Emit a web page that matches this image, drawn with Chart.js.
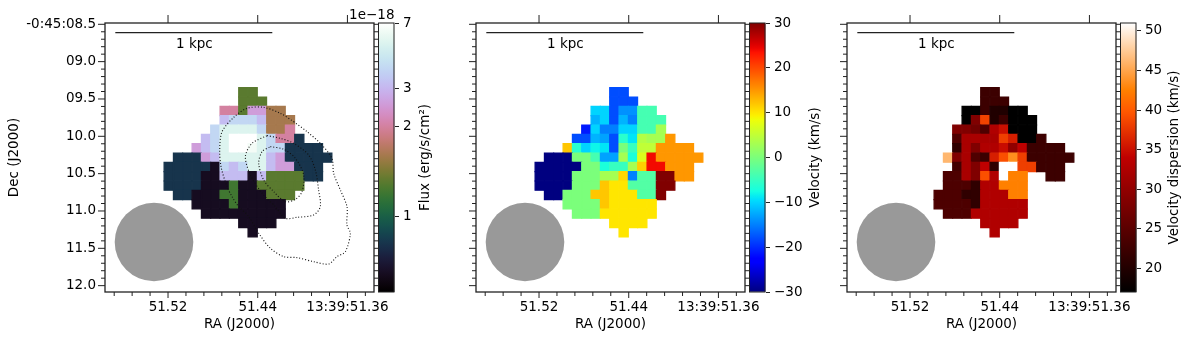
<!DOCTYPE html>
<html>
<head>
<meta charset="utf-8">
<title>Flux, velocity and dispersion maps</title>
<script src="https://cdn.jsdelivr.net/npm/chart.js@4/dist/chart.umd.min.js"></script>
<style>
    html, body { margin: 0; padding: 0; background: #fff; }
    #wrap { position: relative; width: 1200px; height: 339px; overflow: hidden; }
    #wrap div { position: absolute; top: 0; height: 339px; }
    #wrap div.map { top: -20px; height: 359px; width: 420px; }
    canvas { display: block; }
</style>
</head>
<body>
<div id="wrap">
    <div class="map" style="left:0"><canvas id="fluxMap"></canvas></div>
    <div class="map" style="left:371px"><canvas id="velMap"></canvas></div>
    <div class="map" style="left:742px"><canvas id="dispMap"></canvas></div>
    <div style="left:378px;width:70px"><canvas id="fluxBar"></canvas></div>
    <div style="left:749px;width:90px"><canvas id="velBar"></canvas></div>
    <div style="left:1120px;width:80px"><canvas id="dispBar"></canvas></div>
</div>
<script>
// ─── DATA ─────────────────────────────────────────────────────────────────────
const _ = null;

// RA seconds / Dec arcsec of the first spaxel, and the spaxel step
const firstRa = 51.5194, stepRa = 0.00832;
const firstDec = 9.4107, stepDec = 0.125;

// flux levels (1e-18 erg/s/cm2)
const K = 0.47, N = 0.75, D = 1.27, O = 1.38, B = 1.68, R = 2.0, P = 2.6, L = 3.2, S = 4.2, A = 5.8, W = 7;

const fluxRows = [
    [_, _, _, _, _, _, _, _, O, O],
    [_, _, _, _, _, _, _, _, O, O, O],
    [_, _, _, _, _, _, R, R, O, P, P, B, B],
    [_, _, _, _, _, _, L, S, S, S, L, B, B, B],
    [_, _, _, _, _, S, A, A, A, A, S, B, B, R],
    [_, _, _, _, L, S, A, W, W, W, A, S, R, R, N],
    [_, _, _, P, L, S, A, W, W, 6.6, A, S, S, N, N, N, N],
    [_, N, N, N, P, L, A, A, A, A, A, L, P, N, N, N, N, N],
    [N, N, N, N, N, K, S, L, S, A, A, L, P, P, N, N, N],
    [N, N, N, N, K, K, L, L, L, K, L, O, O, O, O, N, N],
    [N, N, N, N, K, K, K, D, K, K, O, O, O, O, O],
    [_, N, N, K, K, K, D, D, K, K, K, O, O, O],
    [_, _, _, K, K, K, K, D, K, K, K, K, K],
    [_, _, _, _, K, K, K, K, K, K, K, K, K],
    [_, _, _, _, _, _, _, _, K, K, K, K],
    [_, _, _, _, _, _, _, _, _, K]
];

const velRows = [
    [_, _, _, _, _, _, _, _, -18, -18],
    [_, _, _, _, _, _, _, _, -18, -18, -18],
    [_, _, _, _, _, _, -10, -10, -18, -14, -14, -4, -4],
    [_, _, _, _, _, _, -12, -10, -18, -12, -15, -4, -4, -4],
    [_, _, _, _, _, -21, -10, -15, -15, -10, -10, -4, -4, 3],
    [_, _, _, _, -18, -18, -12, -13, -18, -6, -9, 4, 3, 3, 15],
    [_, _, _, 12, -6, -10, -8, -9, -18, 0, -5, 5, 5, 15, 15, 15, 15],
    [_, -30, -30, -30, 0, 0, -4, -13, -13, 3, -7, 7, 24, 15, 15, 15, 15, 15],
    [-30, -30, -30, -30, -30, 0, 0, -7, -5, -5, 3, 11.5, 24, 24, 15, 15, 15],
    [-30, -30, -30, -30, 0, 0, 0, 3, 3, 11, -15, -3, -3, 30, 30, 15, 15],
    [-30, -30, -30, -30, 0, 0, 0, 12, 10, 10, -3, -3, -3, 30, 30],
    [_, -30, -30, 0, 0, 0, 12, 12, 10, 10, 10, -3, -3, 30],
    [_, _, _, 0, 0, 0, 0, 12, 10, 10, 10, 10, 10],
    [_, _, _, _, 0, 0, 0, 10, 10, 10, 10, 10, 10],
    [_, _, _, _, _, _, _, _, 10, 10, 10, 10],
    [_, _, _, _, _, _, _, _, _, 10]
];

const dispRows = [
    [_, _, _, _, _, _, _, _, 22.3, 22.3],
    [_, _, _, _, _, _, _, _, 22.3, 22.3, 22.3],
    [_, _, _, _, _, _, 17, 17, 22.3, 19.8, 19.8, 17, 17],
    [_, _, _, _, _, _, 17, 28.4, 38.5, 19.8, 22.3, 17, 17, 17],
    [_, _, _, _, _, 28.4, 28.4, 27, 24, 32.6, 35, 17, 17, 17],
    [_, _, _, _, _, 24, 32, 32, 32, 32, 38.2, 36, 17, 17, 22.3],
    [_, _, _, _, _, 21.3, 32, 28.4, 32.6, 32.6, 34.8, 29.8, 34, 22.3, 22.3, 22.3, 22.3],
    [_, _, _, _, 46.2, 28.4, 32, 24, 22.3, 36, 39.3, 43.5, 38.2, 22.3, 22.3, 22.3, 22.3, 22.3],
    [_, _, _, _, _, 23, 32, 28.4, 34, 21.3, 51, 51, 38.2, 38.2, 22.3, 22.3, 22.3],
    [_, _, _, _, 23.8, 23.8, 32, 28.4, 39.3, 32.6, 51, 42.5, 42.5, _, _, 22.3, 22.3],
    [_, _, _, _, 23.8, 23.8, 23.8, 21.3, 32.6, 32.6, 42.5, 42.5, 42.5],
    [_, _, _, 23.8, 23.8, 23.8, 21.3, 21.3, 32.6, 32.6, 32.6, 42.5, 42.5],
    [_, _, _, 23.8, 23.8, 23.8, 23.8, 21.3, 32.6, 32.6, 32.6, 32.6, 32.6],
    [_, _, _, _, 23.8, 23.8, 23.8, 32.6, 32.6, 32.6, 32.6, 32.6, 32.6],
    [_, _, _, _, _, _, _, _, 32.6, 32.6, 32.6, 32.6],
    [_, _, _, _, _, _, _, _, _, 32.6]
];

// dotted contours in panel one, [RA seconds, Dec arcsec]
const contourOuter = [
    [51.4079, 9.804], [51.3960, 9.938], [51.3842, 10.094], [51.3738, 10.295], [51.3723, 10.496],
    [51.3663, 10.719], [51.3604, 10.942], [51.3604, 11.188], [51.3574, 11.299], [51.3619, 11.545],
    [51.3693, 11.612], [51.3767, 11.710], [51.3901, 11.679], [51.4050, 11.625], [51.4168, 11.612],
    [51.4287, 11.500], [51.4391, 11.299], [51.4480, 11.076], [51.4569, 10.942], [51.4629, 10.808],
    [51.4679, 10.652], [51.4727, 10.406], [51.4739, 10.183], [51.4718, 9.938], [51.4614, 9.746],
    [51.4495, 9.625], [51.4347, 9.612], [51.4198, 9.692], [51.4079, 9.804]
];
const contourMiddle = [
    [51.4317, 9.991], [51.4198, 10.027], [51.4079, 10.094], [51.3946, 10.250], [51.3886, 10.451],
    [51.3857, 10.719], [51.3842, 10.942], [51.3901, 11.054], [51.4050, 11.085], [51.4154, 11.098],
    [51.4243, 10.942], [51.4361, 10.763], [51.4465, 10.518], [51.4510, 10.272], [51.4451, 10.094],
    [51.4317, 9.991]
];
const contourInner = [
    [51.4287, 10.138], [51.4168, 10.174], [51.4064, 10.295], [51.3990, 10.518], [51.4005, 10.741],
    [51.4064, 10.844], [51.4154, 10.875], [51.4257, 10.741], [51.4347, 10.585], [51.4391, 10.362],
    [51.4361, 10.205], [51.4287, 10.138]
];

// scale bar and beam
const barRa = [51.5670, 51.4270], barDec = 8.6125;
const kpcRa = 51.4965, kpcDec = 8.764;
const beamRa = 51.5325, beamDec = 11.415;

// axes
const raRange = [51.3363, 51.5762];
const decRange = [8.4826, 12.085];
const raMajor = [51.36, 51.44, 51.52];
const raMinor = [51.344, 51.376, 51.392, 51.408, 51.424, 51.456, 51.472, 51.488, 51.504, 51.536, 51.552, 51.568];
const decMajor = [8.5, 9, 9.5, 10, 10.5, 11, 11.5, 12];
const decMinor = [8.6, 8.7, 8.8, 8.9, 9.1, 9.2, 9.3, 9.4, 9.6, 9.7, 9.8, 9.9, 10.1, 10.2, 10.3, 10.4, 10.6, 10.7, 10.8, 10.9, 11.1, 11.2, 11.3, 11.4, 11.6, 11.7, 11.8, 11.9];

// colourbars
const fluxTicks = [1, 2, 3, 7];
const fluxNormV = [0.3, 1, 2, 3, 7];
const fluxNormT = [0, 0.281, 0.616, 0.757, 1];
const velTicks = [-30, -20, -10, 0, 10, 20, 30];
const dispTicks = [20, 25, 30, 35, 40, 45, 50];

// ─── COLOUR MAPS ──────────────────────────────────────────────────────────────
const rgb = (r, g, b) => {
    const c = v => Math.round(Math.min(1, Math.max(0, v)) * 255);
    return `rgb(${c(r)},${c(g)},${c(b)})`;
};

function lerp(xs, ys, x) {
    if (x <= xs[0]) return ys[0];
    for (let i = 1; i < xs.length; i++) {
        if (x <= xs[i]) return ys[i - 1] + (ys[i] - ys[i - 1]) * (x - xs[i - 1]) / (xs[i] - xs[i - 1]);
    }
    return ys[ys.length - 1];
}

function cubehelix(t) {
    const a = t * (1 - t) / 2;
    const phi = 2 * Math.PI * (0.5 / 3 - 1.5 * t);
    const c = Math.cos(phi), s = Math.sin(phi);
    return rgb(t + a * (-0.14861 * c + 1.78277 * s), t + a * (-0.29227 * c - 0.90649 * s), t + a * 1.97294 * c);
}

function jet(t) {
    return rgb(
        lerp([0, 0.35, 0.66, 0.89, 1], [0, 0, 1, 1, 0.5], t),
        lerp([0, 0.125, 0.375, 0.64, 0.91, 1], [0, 0, 1, 1, 0, 0], t),
        lerp([0, 0.11, 0.34, 0.65, 1], [0.5, 1, 1, 0, 0], t)
    );
}

const gistHeat = t => rgb(1.5 * t, 2 * t - 1, 4 * t - 3);

const fluxPos = v => lerp(fluxNormV, fluxNormT, v);
const velPos = v => (v + 30) / 60;
const dispPos = v => (v - 17) / 34;

// ─── PLUGINS ──────────────────────────────────────────────────────────────────
const frameColor = '#222';

const framePlugin = {
    id: 'frame',
    afterDraw(chart) {
        const { ctx, chartArea: a, scales: { x, y } } = chart;
        ctx.save();
        ctx.strokeStyle = frameColor;
        ctx.lineWidth = 1;
        const tick = (x1, y1, x2, y2) => {
            ctx.beginPath();
            ctx.moveTo(x1, y1);
            ctx.lineTo(x2, y2);
            ctx.stroke();
        };
        raMajor.forEach(v => {
            const p = x.getPixelForValue(v);
            tick(p, a.bottom, p, a.bottom + 6);
            tick(p, a.top, p, a.top - 8);
        });
        raMinor.forEach(v => {
            const p = x.getPixelForValue(v);
            tick(p, a.bottom, p, a.bottom + 4);
        });
        decMajor.forEach(v => {
            const p = y.getPixelForValue(v);
            tick(a.left, p, a.left - 7, p);
            tick(a.right, p, a.right + 7, p);
        });
        decMinor.forEach(v => {
            const p = y.getPixelForValue(v);
            tick(a.left, p, a.left - 4, p);
            tick(a.right, p, a.right + 4, p);
        });
        ctx.lineWidth = 1.3;
        ctx.strokeRect(a.left, a.top, a.right - a.left, a.bottom - a.top);

        ctx.fillStyle = '#000';
        ctx.font = "13.5px 'DejaVu Sans'";
        ctx.textAlign = 'center';
        ctx.textBaseline = 'middle';
        ctx.fillText('1 kpc', x.getPixelForValue(kpcRa), y.getPixelForValue(kpcDec));
        if (chart.canvas.id === 'fluxMap') {
            ctx.textAlign = 'right';
            ctx.fillText('1e\u221218', 394.5, a.top - 8);
        }
        ctx.restore();
    }
};

const barLabelPlugin = {
    id: 'barLabel',
    afterDraw(chart, args, opts) {
        const { ctx, chartArea: a } = chart;
        ctx.save();
        ctx.strokeStyle = frameColor;
        ctx.lineWidth = 1;
        ctx.strokeRect(a.left + 0.5, a.top, a.right - a.left - 1, a.bottom - a.top);
        ctx.translate(opts.x, (a.top + a.bottom) / 2);
        ctx.rotate(-Math.PI / 2);
        ctx.fillStyle = '#000';
        ctx.font = "13.5px 'DejaVu Sans'";
        ctx.textAlign = 'center';
        ctx.textBaseline = 'middle';
        ctx.fillText(opts.text, 0, 0);
        ctx.restore();
    }
};

// ─── CHART BUILDERS ───────────────────────────────────────────────────────────
Chart.defaults.font.family = "'DejaVu Sans', sans-serif";
Chart.defaults.font.size = 13.5;
Chart.defaults.color = '#000';
Chart.defaults.animation = false;
Chart.defaults.responsive = false;

const cellPoints = rows => rows.flatMap((row, r) => row.map((v, c) => (
    v === null ? null : { x: firstRa - c * stepRa, y: firstDec + r * stepDec, v }
)).filter(Boolean));

const asPoints = list => list.map(([x, y]) => ({ x, y }));

// the beam's big point reserves its radius round the plot, so the map canvases overhang the page
function makeMap(id, rows, cmap, pos, showDec, contours) {
    const cv = document.getElementById(id);
    cv.width = 420;
    cv.height = 359;
    const cells = cellPoints(rows);
    const cellColors = cells.map(p => cmap(pos(p.v)));
    const lines = contours.map(list => ({
        data: asPoints(list),
        showLine: true,
        pointRadius: 0,
        borderColor: '#111',
        borderWidth: 1.1,
        borderDash: [1, 2],
        tension: 0.3,
        order: 0
    }));
    new Chart(cv, {
        type: 'scatter',
        data: {
            datasets: [
                ...lines,
                {
                    data: [{ x: barRa[0], y: barDec }, { x: barRa[1], y: barDec }],
                    showLine: true,
                    pointRadius: 0,
                    borderColor: '#222',
                    borderWidth: 1.3,
                    order: 1
                },
                {
                    data: [{ x: beamRa, y: beamDec }],
                    pointRadius: 39.3,
                    pointHoverRadius: 39.3,
                    pointBackgroundColor: '#999',
                    pointBorderWidth: 0,
                    order: 2
                },
                {
                    data: cells,
                    pointStyle: 'rect',
                    pointRadius: 6.5,
                    pointBackgroundColor: cellColors,
                    pointBorderColor: cellColors,
                    pointBorderWidth: 1.2,
                    order: 3
                }
            ]
        },
        options: {
            layout: { padding: { top: 43, right: 46, bottom: 0, left: 0 } },
            plugins: { legend: { display: false }, tooltip: { enabled: false } },
            scales: {
                x: {
                    type: 'linear',
                    reverse: true,
                    min: raRange[0],
                    max: raRange[1],
                    grid: { display: false, drawTicks: false },
                    border: { display: false },
                    afterBuildTicks: s => { s.ticks = raMajor.map(value => ({ value })); },
                    afterFit: s => { s.height = 47; },
                    ticks: {
                        autoSkip: false,
                        maxRotation: 0,
                        padding: 7,
                        callback: v => (Math.abs(v - 51.36) < 1e-6 ? '13:39:51.36' : v.toFixed(2))
                    },
                    title: { display: true, text: 'RA (J2000)', padding: { top: 0, bottom: 6 } }
                },
                y: {
                    type: 'linear',
                    reverse: true,
                    min: decRange[0],
                    max: decRange[1],
                    grid: { display: false, drawTicks: false },
                    border: { display: false },
                    afterBuildTicks: s => { s.ticks = decMajor.map(value => ({ value })); },
                    afterFit: s => { s.width = 105; },
                    ticks: {
                        display: showDec,
                        autoSkip: false,
                        padding: 9,
                        callback: v => (v === 8.5 ? '-0:45:08.5' : String(v.toFixed(1)).padStart(4, '0'))
                    },
                    title: { display: showDec, text: 'Dec (J2000)', padding: { top: 6, bottom: 0 } }
                }
            }
        },
        plugins: [framePlugin]
    });
}

function makeBar(id, width, cmap, range, tickVals, tickPos, text, labelX) {
    const cv = document.getElementById(id);
    cv.width = width;
    cv.height = 339;
    new Chart(cv, {
        type: 'bar',
        data: {
            labels: [''],
            datasets: [{
                data: [range],
                barPercentage: 1,
                categoryPercentage: 1,
                borderWidth: 0,
                backgroundColor: ctx => {
                    const a = ctx.chart.chartArea;
                    if (!a) return '#000';
                    const g = ctx.chart.ctx.createLinearGradient(0, a.bottom, 0, a.top);
                    for (let i = 0; i <= 64; i++) g.addColorStop(i / 64, cmap(i / 64));
                    return g;
                }
            }]
        },
        options: {
            layout: { padding: { top: 23, bottom: 47, left: 0, right: 0 } },
            plugins: {
                legend: { display: false },
                tooltip: { enabled: false },
                barLabel: { text, x: labelX }
            },
            scales: {
                x: { display: false },
                y: {
                    position: 'right',
                    min: range[0],
                    max: range[1],
                    grid: { drawOnChartArea: false, tickLength: 4.5, tickColor: frameColor },
                    border: { display: false },
                    afterBuildTicks: s => { s.ticks = tickVals.map(v => ({ value: tickPos(v) })); },
                    afterFit: s => { s.width = width - 16.5; },
                    ticks: {
                        autoSkip: false,
                        padding: 4,
                        callback: (v, i) => String(tickVals[i]).replace('-', '\u2212')
                    }
                }
            }
        },
        plugins: [barLabelPlugin]
    });
}

// ─── PANELS ───────────────────────────────────────────────────────────────────
makeMap('fluxMap', fluxRows, cubehelix, fluxPos, true, [contourOuter, contourMiddle, contourInner]);
makeMap('velMap', velRows, jet, velPos, false, []);
makeMap('dispMap', dispRows, gistHeat, dispPos, false, []);

makeBar('fluxBar', 70, cubehelix, [0, 1], fluxTicks, fluxPos, 'Flux (erg/s/cm\u00B2)', 47);
makeBar('velBar', 90, jet, [0, 1], velTicks, velPos, 'Velocity (km/s)', 66);
makeBar('dispBar', 80, gistHeat, [0, 1], dispTicks, dispPos, 'Velocity dispersion (km/s)', 54);
</script>
</body>
</html>
